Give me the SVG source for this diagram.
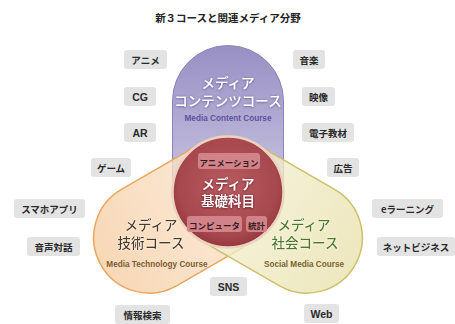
<svg xmlns="http://www.w3.org/2000/svg" width="455" height="324" viewBox="0 0 455 324">
<style>
.lb rect{fill:#e3e3e3}
.lb text{font-family:"Noto Sans CJK JP",sans-serif;font-size:9.5px;font-weight:bold;fill:#2a2a2a;text-anchor:middle;dominant-baseline:central}
.lb text.en{font-family:"Liberation Sans","Noto Sans CJK JP",sans-serif;font-size:10.5px}
.ttl{font-family:"Noto Sans CJK JP",sans-serif;font-size:10.5px;font-weight:bold;fill:#222;text-anchor:middle;dominant-baseline:central}
.big{font-family:"Noto Sans CJK JP",sans-serif;font-size:13.5px;font-weight:500;text-anchor:middle}
.sub{font-family:"Liberation Sans",sans-serif;font-size:8.2px;font-weight:bold;text-anchor:middle;dominant-baseline:central}
.ib rect{fill:#d2838a}
.ib text{font-family:"Noto Sans CJK JP",sans-serif;font-size:8.5px;font-weight:bold;fill:#3a1c1e;text-anchor:middle;dominant-baseline:central}
</style>
<defs>
<path id="stad" d="M-55.5,-91 A55.5,55.5 0 0 1 55.5,-91 L55.5,0 A55.5,55.5 0 0 1 -55.5,0 Z"/>
<linearGradient id="gp" x1="0" y1="0" x2="0" y2="1"><stop offset="0" stop-color="#988fc4"/><stop offset="1" stop-color="#dcd9ec"/></linearGradient>
<linearGradient id="go" x1="0" y1="0" x2="0" y2="1"><stop offset="0" stop-color="#f6cea4"/><stop offset="1" stop-color="#fcecdb"/></linearGradient>
<linearGradient id="gg" x1="0" y1="0" x2="0" y2="1"><stop offset="0" stop-color="#e9e2ae"/><stop offset="1" stop-color="#f7f4de"/></linearGradient>
<radialGradient id="gr" cx="0.5" cy="0.45" r="0.55"><stop offset="0" stop-color="#b95a60"/><stop offset="0.8" stop-color="#a7474e"/><stop offset="1" stop-color="#96373d"/></radialGradient>
<filter id="sh" x="-20%" y="-20%" width="140%" height="140%"><feDropShadow dx="0" dy="0.6" stdDeviation="0.9" flood-color="#4a1518" flood-opacity="0.9"/></filter>
<filter id="shp" x="-20%" y="-20%" width="140%" height="140%"><feDropShadow dx="0" dy="0.5" stdDeviation="0.8" flood-color="#4a3f86" flood-opacity="0.9"/></filter>
<filter id="glw" x="-20%" y="-20%" width="140%" height="140%"><feDropShadow dx="0" dy="0" stdDeviation="0.8" flood-color="#ffffff" flood-opacity="1"/></filter>
</defs>
<rect width="455" height="324" fill="#ffffff"/>
<text class="ttl" x="228" y="17">新３コースと関連メディア分野</text>

<g id="content-course">
<use href="#stad" transform="translate(228,192)" fill="url(#gp)" stroke="#8c84bb" stroke-width="1"/>
<text class="big" fill="#ffffff" filter="url(#shp)"><tspan x="228" y="88">メディア</tspan><tspan x="228" y="106">コンテンツコース</tspan></text>
<text class="sub" x="228" y="118" fill="#5d539f">Media Content Course</text>
</g>

<g id="technology-course">
<use href="#stad" transform="translate(228,192) rotate(-120)" fill="url(#go)" fill-opacity="0.8" stroke="#e9a65c" stroke-width="1.5"/>
<text class="big" fill="#4d3720" filter="url(#glw)"><tspan x="151" y="230">メディア</tspan><tspan x="151" y="248">技術コース</tspan></text>
<text class="sub" x="157" y="264" fill="#7d5d35">Media Technology Course</text>
</g>

<g id="social-course">
<use href="#stad" transform="translate(228,192) rotate(120)" fill="url(#gg)" fill-opacity="0.8" stroke="#cdc06a" stroke-width="1.5"/>
<text class="big" fill="#4a7a1f" filter="url(#glw)"><tspan x="304" y="230">メディア</tspan><tspan x="305" y="248">社会コース</tspan></text>
<text class="sub" x="304" y="264" fill="#7a6530">Social Media Course</text>
</g>

<g id="basic-subjects">
<circle cx="228" cy="192" r="55.5" fill="url(#gr)" stroke="#ecd3c0" stroke-width="2.5"/>
<g class="ib">
<rect x="198" y="153" width="62" height="16" rx="3"/><text x="229" y="161.5">アニメーション</text>
<rect x="187" y="216" width="55" height="16" rx="3"/><text x="214.5" y="224.5">コンピュータ</text>
<rect x="246" y="216" width="21" height="16" rx="3"/><text x="256.5" y="224.5">統計</text>
</g>
<text class="big" fill="#ffffff" font-weight="bold" font-size="15" filter="url(#sh)"><tspan x="228" y="189">メディア</tspan><tspan x="228" y="206">基礎科目</tspan></text>
</g>

<g id="labels" class="lb">
<g id="l-anime"><rect x="124" y="50" width="43" height="19" rx="3"/><text x="145.5" y="59.5">アニメ</text></g>
<g id="l-cg"><rect x="124" y="87" width="32" height="19" rx="3"/><text class="en" x="140" y="96.5">CG</text></g>
<g id="l-ar"><rect x="124" y="123" width="32" height="19" rx="3"/><text class="en" x="140" y="132.5">AR</text></g>
<g id="l-game"><rect x="91" y="158" width="40" height="19" rx="3"/><text x="111" y="167.5">ゲーム</text></g>
<g id="l-app"><rect x="14" y="199" width="71" height="19" rx="3"/><text x="49.5" y="208.5">スマホアプリ</text></g>
<g id="l-voice"><rect x="27" y="237" width="53" height="19" rx="3"/><text x="53.5" y="246.5">音声対話</text></g>
<g id="l-search"><rect x="115" y="305" width="55" height="19" rx="3"/><text x="142.5" y="314.5">情報検索</text></g>
<g id="l-sns"><rect x="210" y="277" width="37" height="19" rx="3"/><text class="en" x="228.5" y="286.5">SNS</text></g>
<g id="l-web"><rect x="304" y="304" width="35" height="19" rx="3"/><text class="en" x="321.5" y="313.5">Web</text></g>
<g id="l-music"><rect x="293" y="50" width="32" height="19" rx="3"/><text x="309" y="59.5">音楽</text></g>
<g id="l-video"><rect x="302" y="87" width="33" height="19" rx="3"/><text x="318.5" y="96.5">映像</text></g>
<g id="l-edu"><rect x="302" y="123" width="52" height="19" rx="3"/><text x="328" y="132.5">電子教材</text></g>
<g id="l-ad"><rect x="327" y="158" width="32" height="19" rx="3"/><text x="343" y="167.5">広告</text></g>
<g id="l-elearn"><rect x="372" y="199" width="71" height="19" rx="3"/><text x="407.5" y="208.5">eラーニング</text></g>
<g id="l-net"><rect x="377" y="237" width="78" height="19" rx="3"/><text x="416" y="246.5">ネットビジネス</text></g>
</g>
<g id="connectors"/>
</svg>
